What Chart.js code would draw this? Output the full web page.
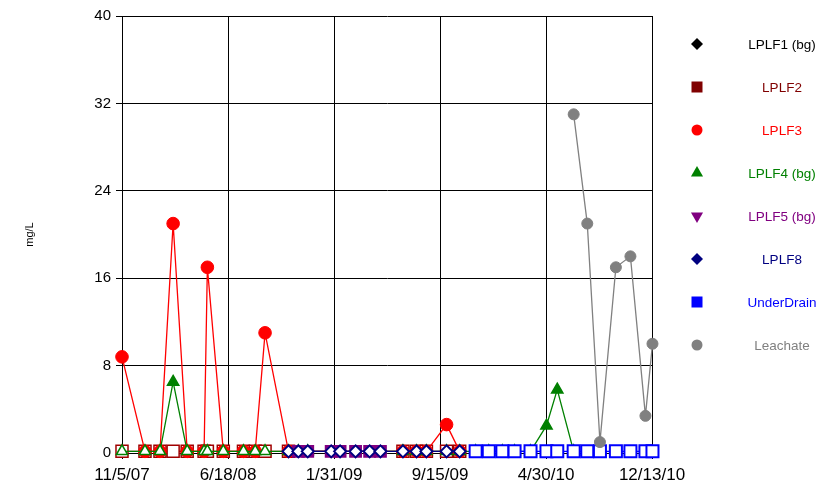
<!DOCTYPE html>
<html>
<head>
<meta charset="utf-8">
<script src="https://cdn.jsdelivr.net/npm/chart.js@4"></script>
<style>
  html, body { margin: 0; padding: 0; background: #ffffff; }
  canvas { display: block; }
</style>
</head>
<body>
<canvas id="c" width="821" height="486"></canvas>
<script>
// ---------- data ----------
const startDate = '2007-11-05';
const tickStepDays = 226;
const xTickLabels = ['11/5/07', '6/18/08', '1/31/09', '9/15/09', '4/30/10', '12/13/10'];
const yTickValues = [0, 8, 16, 24, 32, 40];

const sampleDates = [
  '2007-11-05', '2007-12-24', '2008-01-25', '2008-02-22', '2008-03-23', '2008-04-28',
  '2008-05-05', '2008-06-08', '2008-07-21', '2008-08-15', '2008-09-05', '2008-10-25',
  '2008-11-15', '2008-12-05', '2009-01-24', '2009-02-12', '2009-03-17', '2009-04-16',
  '2009-05-09', '2009-06-26', '2009-07-25', '2009-08-15', '2009-09-27', '2009-10-25',
  '2009-11-28', '2009-12-26', '2010-01-24', '2010-02-19', '2010-03-25', '2010-04-28',
  '2010-05-21', '2010-06-25', '2010-07-24', '2010-08-20', '2010-09-23', '2010-10-24',
  '2010-11-25', '2010-12-10'
];

const seriesNames = ['LPLF1 (bg)', 'LPLF2', 'LPLF3', 'LPLF4 (bg)', 'LPLF5 (bg)', 'LPLF8', 'UnderDrain', 'Leachate'];

const lplf1 = [];
const lplf2 = [0.15, 0.15, 0.15, 0.15, 0.15, 0.15, 0.15, 0.15, 0.15, 0.15, 0.15, 0.15,
  null, null, null, null, null, null, null,
  0.15, 0.15, 0.15, 0.15, 0.15,
  null, null, null, null, null, null, null, null, null, null, null, null, null, null];
const lplf3 = [8.8, 0.15, 0.15, 21, 0.15, 0.15, 17, 0.15, 0.15, 0.15, 11, 0.15,
  null, null, null, null, null, null, null,
  0.15, 0.15, 0.15, 2.6, 0.15,
  null, null, null, null, null, null, null, null, null, null, null, null, null, null];
const lplf4 = [0.15, 0.15, 0.15, 6.5, 0.15, 0.15, 0.15, 0.15, 0.15, 0.15, 0.15, 0.15, 0.15, 0.15,
  null, null, null, null, null,
  0.15, 0.15, 0.15, 0.15, 0.15,
  0.15, 0.15, 0.15, 0.15, 0.15, 2.5, 5.8, 0.15,
  null, null, null, null, null, null];
const lplf5 = [null, null, null, null, null, null, null, null, null, null, null, null,
  0.15, 0.15, 0.15, 0.15, 0.15, 0.15, 0.15,
  null, null, null, null, null, null, null, null, null, null, null, null, null, null, null, null, null, null, null];
const lplf8 = [null, null, null, null, null, null, null, null, null, null, null,
  0.15, 0.15, 0.15, 0.15, 0.15, 0.15, 0.15, 0.15, 0.15, 0.15, 0.15, 0.15, 0.15,
  null, null, null, null, null, null, null, null, null, null, null, null, null, null];
const underDrain = [null, null, null, null, null, null, null, null, null, null, null, null,
  null, null, null, null, null, null, null, null, null, null, null, null,
  0.15, 0.15, 0.15, 0.15, 0.15, 0.15, 0.15, 0.15, 0.15, 0.15, 0.15, 0.15, 0.15, 0.15];
const leachate = [null, null, null, null, null, null, null, null, null, null, null, null,
  null, null, null, null, null, null, null, null, null, null, null, null,
  null, null, null, null, null, null, null,
  31, 21, 1.0, 17, 18, 3.4, 10];

// ---------- helpers ----------
const DAY = 86400000;
function dayOf(d) { return (Date.parse(d) - Date.parse(startDate)) / DAY; }
function toPoints(vals) {
  return vals.map((v, i) => ({ x: dayOf(sampleDates[i]), y: v }));
}

const FONT = "'Liberation Sans', Arial, Helvetica, sans-serif";

// style definitions (appearance only)
const styles = [
  { color: '#000000', style: 'rectRot', r: 6, rot: 0, fill: '#000000', bw: 1.5, lr: 6 },
  { color: '#800000', style: 'rect', r: 8.5, rot: 0, fill: '#ffffff', border: '#a00000', bw: 1.5, lr: 7.5 },
  { color: '#ff0000', style: 'circle', r: 6.3, rot: 0, fill: '#ff0000', bw: 1, lr: 5.5 },
  { color: '#008000', style: 'triangle', r: 6.5, rot: 0, fill: 'data', bw: 1.5, lr: 7 },
  { color: '#800080', style: 'rect', r: 8, rot: 0, fill: '#800080', bw: 1.5, lr: 7 },
  { color: '#000080', style: 'rectRot', r: 6, rot: 0, fill: '#ffffff', bw: 2, lr: 6 },
  { color: '#0000ff', style: 'rect', r: 8.5, rot: 0, fill: '#ffffff', bw: 2, lr: 7.5 },
  { color: '#808080', style: 'circle', r: 5.5, rot: 0, fill: '#808080', bw: 1, lr: 5.5 }
];
// legend glyph shape per series (legend shows an inverted triangle for LPLF5)
const legendShapes = ['rectRot', 'rect', 'circle', 'triangle', 'triangleDown', 'rectRot', 'rect', 'circle'];
const seriesValues = [lplf1, lplf2, lplf3, lplf4, lplf5, lplf8, underDrain, leachate];

const datasets = seriesValues.map((vals, i) => {
  const s = styles[i];
  return {
    label: seriesNames[i],
    data: toPoints(vals),
    borderColor: s.color,
    backgroundColor: s.color,
    borderWidth: 1.3,
    pointStyle: s.style,
    pointRadius: s.r,
    pointRotation: s.rot,
    pointBorderColor: s.border || s.color,
    pointBorderWidth: s.bw,
    pointBackgroundColor: s.fill === 'data'
      ? (ctx) => (ctx.raw && ctx.raw.y > 1 ? s.color : '#ffffff')
      : s.fill,
    pointHoverRadius: s.r,
    spanGaps: true,
    tension: 0,
    clip: false,
    order: 8 - i
  };
});

// custom legend drawn at the right
function drawShape(ctx, style, x, y, r) {
  ctx.beginPath();
  if (style === 'circle') {
    ctx.arc(x, y, r, 0, Math.PI * 2);
  } else if (style === 'rect') {
    ctx.rect(x - r, y - r, 2 * r, 2 * r);
  } else if (style === 'rectRot') {
    ctx.moveTo(x - r, y); ctx.lineTo(x, y - r); ctx.lineTo(x + r, y); ctx.lineTo(x, y + r);
  } else if (style === 'triangle' || style === 'triangleDown') {
    const s = style === 'triangleDown' ? -1 : 1;
    ctx.moveTo(x, y - s * r);
    ctx.lineTo(x + 0.866 * r, y + s * r * 0.5);
    ctx.lineTo(x - 0.866 * r, y + s * r * 0.5);
  }
  ctx.closePath();
  ctx.fill();
}

const sideLegend = {
  id: 'sideLegend',
  afterDraw(chart) {
    const ctx = chart.ctx;
    ctx.save();
    ctx.font = '13.5px ' + FONT;
    ctx.textAlign = 'center';
    ctx.textBaseline = 'middle';
    chart.data.datasets.forEach((ds, i) => {
      const s = styles[i];
      const shape = legendShapes[i];
      const y = 44 + i * 43;
      ctx.fillStyle = s.color;
      const rr = shape === 'rect' ? 5.5 : s.lr;
      drawShape(ctx, shape, 697, y, rr);
      ctx.fillStyle = s.color;
      ctx.fillText(ds.label, 782, y + 1);
    });
    ctx.restore();
  }
};

new Chart(document.getElementById('c'), {
  type: 'line',
  data: { datasets },
  options: {
    responsive: false,
    devicePixelRatio: 1,
    animation: false,
    events: [],
    layout: { padding: { left: 0, right: 169, top: 16, bottom: 0 } },
    plugins: { legend: { display: false }, tooltip: { enabled: false } },
    scales: {
      x: {
        type: 'linear',
        min: 0,
        max: tickStepDays * (xTickLabels.length - 1),
        afterFit(scale) { scale.height = 33; },
        ticks: {
          stepSize: tickStepDays,
          autoSkip: false,
          maxRotation: 0,
          padding: 6,
          color: '#000000',
          font: { family: FONT, size: 17 },
          callback: (v) => {
            const idx = Math.round(v / tickStepDays);
            return xTickLabels[idx] !== undefined ? xTickLabels[idx] : '';
          }
        },
        grid: { color: '#000000', lineWidth: 1, tickLength: 6, drawTicks: true },
        border: { color: '#000000', width: 1 }
      },
      y: {
        min: yTickValues[0],
        max: yTickValues[yTickValues.length - 1],
        afterFit(scale) { scale.width = 122; },
        afterBuildTicks(scale) { scale.ticks = yTickValues.map(v => ({ value: v })); },
        ticks: {
          padding: 5,
          color: '#000000',
          font: { family: FONT, size: 15 }
        },
        grid: { color: '#000000', lineWidth: 1, tickLength: 6, drawTicks: true },
        border: { color: '#000000', width: 1 },
        title: {
          display: true,
          text: 'mg/L',
          color: '#000000',
          font: { family: FONT, size: 11 },
          padding: { top: 23, bottom: 0 }
        }
      }
    }
  },
  plugins: [sideLegend]
});
</script>
</body>
</html>
